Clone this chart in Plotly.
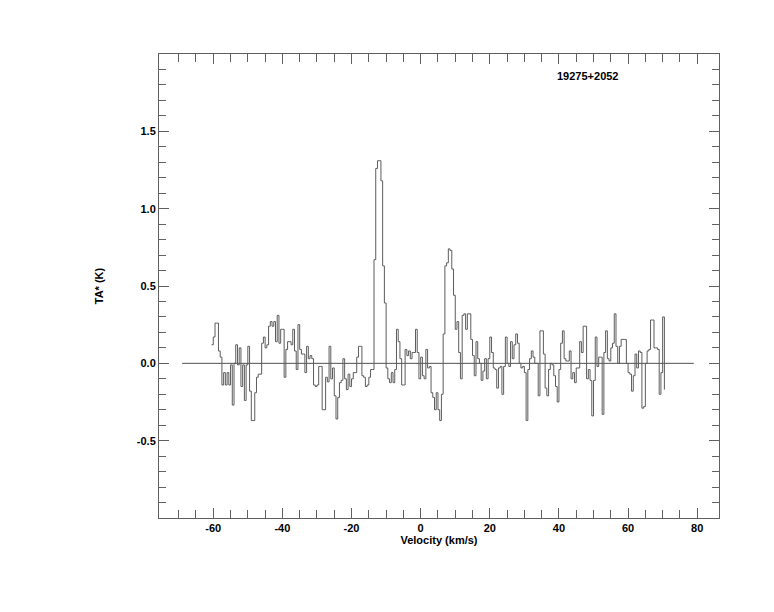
import plotly.graph_objects as go

# Channel velocities (km/s), left edges of 0.5 km/s channels
velocity = [
    -60.5, -60.0, -59.5, -59.0, -58.5, -58.0, -57.5, -57.0, -56.5, -56.0,
    -55.5, -55.0, -54.5, -54.0, -53.5, -53.0, -52.5, -52.0, -51.5, -51.0,
    -50.5, -50.0, -49.5, -49.0, -48.5, -48.0, -47.5, -47.0, -46.5, -46.0,
    -45.5, -45.0, -44.5, -44.0, -43.5, -43.0, -42.5, -42.0, -41.5, -41.0,
    -40.5, -40.0, -39.5, -39.0, -38.5, -38.0, -37.5, -37.0, -36.5, -36.0,
    -35.5, -35.0, -34.5, -34.0, -33.5, -33.0, -32.5, -32.0, -31.5, -31.0,
    -30.5, -30.0, -29.5, -29.0, -28.5, -28.0, -27.5, -27.0, -26.5, -26.0,
    -25.5, -25.0, -24.5, -24.0, -23.5, -23.0, -22.5, -22.0, -21.5, -21.0,
    -20.5, -20.0, -19.5, -19.0, -18.5, -18.0, -17.5, -17.0, -16.5, -16.0,
    -15.5, -15.0, -14.5, -14.0, -13.5, -13.0, -12.5, -12.0, -11.5, -11.0,
    -10.5, -10.0, -9.5, -9.0, -8.5, -8.0, -7.5, -7.0, -6.5, -6.0,
    -5.5, -5.0, -4.5, -4.0, -3.5, -3.0, -2.5, -2.0, -1.5, -1.0,
    -0.5, 0.0, 0.5, 1.0, 1.5, 2.0, 2.5, 3.0, 3.5, 4.0,
    4.5, 5.0, 5.5, 6.0, 6.5, 7.0, 7.5, 8.0, 8.5, 9.0,
    9.5, 10.0, 10.5, 11.0, 11.5, 12.0, 12.5, 13.0, 13.5, 14.0,
    14.5, 15.0, 15.5, 16.0, 16.5, 17.0, 17.5, 18.0, 18.5, 19.0,
    19.5, 20.0, 20.5, 21.0, 21.5, 22.0, 22.5, 23.0, 23.5, 24.0,
    24.5, 25.0, 25.5, 26.0, 26.5, 27.0, 27.5, 28.0, 28.5, 29.0,
    29.5, 30.0, 30.5, 31.0, 31.5, 32.0, 32.5, 33.0, 33.5, 34.0,
    34.5, 35.0, 35.5, 36.0, 36.5, 37.0, 37.5, 38.0, 38.5, 39.0,
    39.5, 40.0, 40.5, 41.0, 41.5, 42.0, 42.5, 43.0, 43.5, 44.0,
    44.5, 45.0, 45.5, 46.0, 46.5, 47.0, 47.5, 48.0, 48.5, 49.0,
    49.5, 50.0, 50.5, 51.0, 51.5, 52.0, 52.5, 53.0, 53.5, 54.0,
    54.5, 55.0, 55.5, 56.0, 56.5, 57.0, 57.5, 58.0, 58.5, 59.0,
    59.5, 60.0, 60.5, 61.0, 61.5, 62.0, 62.5, 63.0, 63.5, 64.0,
    64.5, 65.0, 65.5, 66.0, 66.5, 67.0, 67.5, 68.0, 68.5, 69.0,
    69.5, 70.0, 70.5,
]

# Antenna temperature TA* (K)
ta = [
    0.12, 0.17, 0.26, 0.26, 0.08, 0.04, -0.14, -0.06, -0.14, -0.06,
    -0.14, -0.01, -0.27, 0.00, 0.12, -0.01, 0.10, -0.15, -0.01, -0.24,
    -0.01, 0.11, -0.18, -0.37, -0.37, -0.19, -0.09, -0.07, -0.07, 0.13,
    0.17, 0.10, 0.12, 0.24, 0.27, 0.24, 0.27, 0.14, 0.31, 0.13,
    0.22, 0.22, -0.09, 0.09, 0.14, 0.14, 0.12, 0.22, 0.08, -0.04,
    0.25, 0.09, 0.06, 0.06, -0.06, 0.11, 0.03, 0.05, 0.03, -0.14,
    -0.15, -0.14, -0.02, -0.02, -0.30, -0.30, -0.09, -0.12, 0.11, -0.10,
    -0.03, -0.21, -0.36, -0.22, -0.125, -0.11, 0.03, -0.10, -0.17, -0.07,
    -0.15, -0.10, -0.06, -0.06, 0.04, 0.11, 0.11, -0.08, -0.09, -0.15,
    -0.14, -0.09, -0.04, -0.04, 0.67, 1.26, 1.31, 1.31, 1.18, 0.63,
    0.39, -0.03, -0.10, -0.125, -0.06, -0.125, -0.04, 0.22, 0.14, 0.03,
    -0.14, -0.14, 0.09, 0.05, 0.08, 0.03, 0.07, 0.07, 0.22, 0.07,
    -0.10, 0.04, -0.08, -0.10, 0.09, -0.03, -0.02, -0.19, -0.22, -0.30,
    -0.19, -0.30, -0.37, -0.20, 0.19, 0.63, 0.65, 0.74, 0.73, 0.61,
    0.44, 0.22, 0.27, 0.07, -0.10, 0.31, 0.32, 0.22, 0.32, 0.32,
    0.155, 0.05, -0.08, 0.14, 0.03, 0.00, -0.11, -0.05, 0.03, -0.10,
    0.03, 0.17, 0.07, -0.03, -0.04, -0.16, -0.03, -0.02, -0.20, -0.02,
    0.17, 0.00, -0.02, 0.14, 0.03, 0.12, 0.19, 0.13, 0.00, -0.03,
    -0.02, -0.06, -0.37, -0.04, 0.03, 0.08, 0.04, 0.00, 0.00, -0.21,
    0.21, 0.21, 0.06, -0.16, -0.21, -0.04, 0.00, -0.01, -0.08, -0.15,
    -0.25, -0.04, 0.13, 0.21, 0.03, 0.015, 0.015, 0.08, -0.10, -0.06,
    -0.125, -0.03, -0.03, 0.14, 0.07, 0.24, 0.24, -0.10, -0.04, -0.11,
    -0.34, -0.11, 0.17, -0.02, 0.04, 0.04, -0.33, 0.07, 0.21, 0.03,
    0.015, 0.10, 0.13, 0.32, 0.11, 0.00, 0.11, 0.155, 0.155, 0.155,
    0.00, -0.06, -0.07, -0.18, -0.08, 0.06, -0.03, 0.08, 0.07, -0.29,
    -0.28, 0.00, 0.08, 0.09, 0.28, 0.28, 0.10, 0.10, 0.09, -0.20,
    -0.06, 0.30, -0.17,
]

baseline_x = [-69, 79]
baseline_y = [0.0, 0.0]

x_major = [-60, -40, -20, 0, 20, 40, 60, 80]
x_minor = [-70, -65, -55, -50, -45, -35, -30, -25, -15, -10, -5,
           5, 10, 15, 25, 30, 35, 45, 50, 55, 65, 70, 75]
y_major = [-0.5, 0.0, 0.5, 1.0, 1.5]
y_major_text = ["-0.5", "0.0", "0.5", "1.0", "1.5"]
y_minor = [-0.9, -0.8, -0.7, -0.6, -0.4, -0.3, -0.2, -0.1, 0.1, 0.2, 0.3, 0.4,
           0.6, 0.7, 0.8, 0.9, 1.1, 1.2, 1.3, 1.4, 1.6, 1.7, 1.8, 1.9]

source_name = "19275+2052"

FONT = "Liberation Sans"
AX = "#606060"

fig = go.Figure()
fig.add_trace(go.Scatter(x=baseline_x, y=baseline_y, mode="lines",
                         line=dict(color="#505050", width=1), showlegend=False,
                         hoverinfo="skip"))
fig.add_trace(go.Scatter(x=velocity, y=ta, mode="lines", line_shape="hv",
                         line=dict(color="#5c5c5c", width=1), showlegend=False))

fig.add_annotation(x=48.3, y=1.86, xref="x", yref="y", text=source_name,
                   showarrow=False,
                   font=dict(family=FONT, size=11, color="black", weight="bold"))

fig.update_layout(
    width=758, height=596,
    margin=dict(l=151, r=47, t=46, b=86),
    paper_bgcolor="white", plot_bgcolor="white",
    font=dict(family=FONT, size=11, color="black"),
    xaxis=dict(
        range=[-75.7, 86.3], showgrid=False, zeroline=False,
        showline=True, linecolor=AX, linewidth=1, mirror="allticks",
        ticks="inside", ticklen=10, tickcolor=AX, tickwidth=1,
        tickmode="array", tickvals=x_major, ticktext=[str(v) for v in x_major],
        tickfont=dict(family=FONT, size=11, color="black", weight="bold"),
        minor=dict(tickmode="array", tickvals=x_minor, ticks="inside",
                   ticklen=8, tickcolor=AX, tickwidth=1, showgrid=False),
        title=dict(text="Velocity (km/s)", standoff=2,
                   font=dict(family=FONT, size=11, color="black", weight="bold")),
    ),
    yaxis=dict(
        range=[-1.0, 2.0], showgrid=False, zeroline=False,
        showline=True, linecolor=AX, linewidth=1, mirror="allticks",
        ticks="inside", ticklen=10, tickcolor=AX, tickwidth=1,
        tickmode="array", tickvals=y_major, ticktext=y_major_text,
        tickfont=dict(family=FONT, size=11, color="black", weight="bold"),
        minor=dict(tickmode="array", tickvals=y_minor, ticks="inside",
                   ticklen=7, tickcolor=AX, tickwidth=1, showgrid=False),
        title=dict(text="TA* (K)", standoff=30,
                   font=dict(family=FONT, size=11, color="black", weight="bold")),
    ),
)

fig.write_html("out.html")
